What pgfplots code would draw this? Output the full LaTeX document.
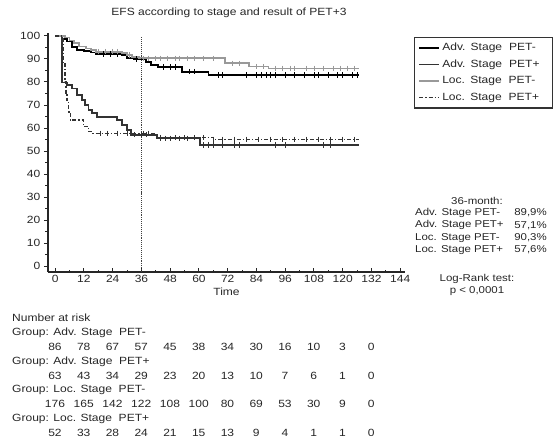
\documentclass[border=0pt]{standalone}
\usepackage{fontspec}
\setmainfont{Liberation Sans}[FakeStretch=1.15]
\usepackage{pgfplots}
\pgfplotsset{compat=1.18}
\definecolor{locneg}{gray}{0.6}
\definecolor{advpos}{gray}{0.2}
\begin{document}
\fontsize{10.5}{12}\selectfont
\begin{tikzpicture}
\useasboundingbox (0,0) rectangle (556bp,-438bp);
\begin{axis}[
  at={(48bp,-272bp)}, anchor=south west,
  scale only axis, width=357bp, height=239bp,
  xmin=-3, xmax=146, ymin=-2.6, ymax=101.3,
  axis x line*=bottom, axis y line*=left,
  axis line style={-, line width=1.7pt, black!85},
  xtick={0,12,...,144}, ytick={0,10,...,100},
  minor xtick={6,18,...,138}, minor ytick={5,15,...,95},
  tick style={black!85, line width=1pt},
  major tick length=4bp, minor tick length=2.5bp,
  xtick align=inside, ytick align=outside,
  ticklabel style={font=\fontsize{10.5}{12}\selectfont, text=black!85},
  /pgf/number format/assume math mode=true,
  xlabel={Time}, xlabel style={font=\fontsize{10.5}{12}\selectfont, yshift=2bp, text=black!85},
  clip=false,
  legend cell align=left,
  legend style={at={(rel axis cs:1.025,0.985)}, anchor=north west,
    draw=black!80, line width=1.2pt, font=\fontsize{10.5}{12}\selectfont,
    inner xsep=4bp, inner ysep=4bp, row sep=3.6bp, text=black!85,
    nodes={text width=104bp}},
  legend image code/.code={\draw[#1, sharp plot] (0bp,0bp) -- (20bp,0bp);},
]
% Adv. Stage PET-
\addplot[const plot, black, line width=1.8pt] coordinates {
(0,100) (3,98.8) (5,97.6) (7,95.2) (9,94) (12,93.5) (15,92.8) (17,92.3)
(28,91.6) (30,90.5) (33,89.9) (38,88.6) (40,87.4) (43,86.6) (53,84.5)
(64,83) (127,83)};
\addlegendentry{Adv. Stage\ \ PET-}
% Adv. Stage PET+
\addplot[const plot, advpos, line width=1.8pt] coordinates {
(0,100) (2.8,79.8) (4.9,78.7) (7,77.2) (9,74.3) (11.1,72.2) (12.5,70)
(13.9,67.8) (15.3,66.4) (17.4,64.9) (25.7,63.5) (28,61.3) (30,59.1)
(31.5,57.1) (42.4,55.5) (60.5,52.6) (127,52.6)};
\addlegendentry{Adv. Stage\ \ PET+}
% Loc. Stage PET-
\addplot[const plot, locneg, line width=1.8pt] coordinates {
(0,100) (4,99.3) (6,98) (8,96.8) (10,95.4) (13,94.6) (15,93.9) (17,93.2)
(28,92.5) (30,91.7) (32,91) (35,90.3) (71,88.1) (81,86.7) (89,85.9) (127,85.9)};
\addlegendentry{Loc. Stage\ \ PET-}
% Loc. Stage PET+
\addplot[const plot, advpos, line width=1.5pt, dash pattern=on 4bp off 2bp on 1.2bp off 2bp] coordinates {
(0,100) (3.2,88) (4,80) (4.5,75) (5,72) (5.6,67) (6.3,63.5) (11.8,60.6)
(13.9,58.4) (15.5,57.6) (42,55.8) (66,55) (127,55)};
\addlegendentry{Loc. Stage\ \ PET+}
% censor marks
\addplot[forget plot, only marks, mark=|, mark size=2.8bp, black, mark options={line width=0.9pt}] coordinates {
(20,92.3) (23,92.3) (26,92.3) (34,89.9) (45,86.6) (48,86.6) (50,86.6) (56,84.5) (58,84.5)
(68,83) (70,83) (80,83) (84,83) (86,83) (88,83) (90,83) (92,83) (96,83) (100,83)
(104,83) (108,83) (110,83) (114,83) (118,83) (120,83) (124,83) (126,83)};
\addplot[forget plot, only marks, mark=|, mark size=2.8bp, locneg, mark options={line width=0.9pt}] coordinates {
(18,93.2) (21,93.2) (24,93.2) (26,93.2) (31,91.7) (37,90.3) (39,90.3) (42,90.3) (44,90.3)
(47,90.3) (50,90.3) (52,90.3) (55,90.3) (58,90.3) (62,90.3) (66,90.3) (74,88.1) (77,88.1)
(84,86.7) (87,86.7) (92,85.9) (95,85.9) (98,85.9) (100,85.9) (105,85.9) (108,85.9)
(112,85.9) (116,85.9) (119,85.9) (122,85.9) (125,85.9)};
\addplot[forget plot, only marks, mark=|, mark size=2.8bp, advpos, mark options={line width=0.9pt}] coordinates {
(33,57.1) (36,57.1) (38,57.1) (44,55.5) (46,55.5) (48,55.5) (52,55.5) (55,55.5)
(62,52.6) (64,52.6) (66,52.6) (70,52.6) (75,52.6) (77,52.6) (92,52.6) (96,52.6)
(112,52.6) (115,52.6)};
\addplot[forget plot, only marks, mark=|, mark size=2.8bp, advpos, mark options={line width=0.9pt}] coordinates {
(19,57.6) (22,57.6) (26,57.6) (30,57.6) (37,57.6) (39,57.6) (44,55.8) (50,55.8) (54,55.8)
(58,55.8) (62,55.8) (66,55) (70,55) (75,55) (80,55) (85,55) (90,55) (95,55) (100,55)
(105,55) (110,55) (115,55) (120,55) (125,55)};
% 36-month reference line
\addplot[forget plot, black!75, line width=1.1pt, densely dotted] coordinates {(36,-2.6) (36,99.5)};
\end{axis}
\begin{scope}[x=1bp, y=-1bp, text=black!85]
\node at (229,13) {EFS according to stage and result of PET+3};
% 36-month summary
\node at (477,201) {\fontsize{10}{12}\selectfont 36-month:};
\foreach \lab/\val [count=\i from 0] in {Adv. Stage PET-/89{,}9\%, Adv. Stage PET+/57{,}1\%, Loc. Stage PET-/90{,}3\%, Loc. Stage PET+/57{,}6\%} {
  \node[anchor=west, inner sep=0pt] at (415,{213+12.3*\i}) {\fontsize{10}{12}\selectfont \lab};
  \node[anchor=east, inner sep=0pt] at (547,{213+12.3*\i}) {\fontsize{10}{12}\selectfont \val};
}
\node at (477,279) {\fontsize{10}{12}\selectfont Log-Rank test:};
\node at (477,291) {\fontsize{10}{12}\selectfont p < 0,0001};
% number at risk
\node[anchor=west, inner sep=0pt] at (12,318) {Number at risk};
\node[anchor=west, inner sep=0pt] at (12,333) {Group: Adv. Stage\ \ PET-};
\node[anchor=west, inner sep=0pt] at (12,361.5) {Group: Adv. Stage\ \ PET+};
\node[anchor=west, inner sep=0pt] at (12,390) {Group: Loc. Stage\ \ PET-};
\node[anchor=west, inner sep=0pt] at (12,418.5) {Group: Loc. Stage\ \ PET+};
\foreach \v [count=\i from 0] in {86,78,67,57,45,38,34,30,16,10,3,0}
  \node[inner sep=0pt] at ({55+28.75*\i},347) {\v};
\foreach \v [count=\i from 0] in {63,43,34,29,23,20,13,10,7,6,1,0}
  \node[inner sep=0pt] at ({55+28.75*\i},375.5) {\v};
\foreach \v [count=\i from 0] in {176,165,142,122,108,100,80,69,53,30,9,0}
  \node[inner sep=0pt] at ({55+28.75*\i},404) {\v};
\foreach \v [count=\i from 0] in {52,33,28,24,21,15,13,9,4,1,1,0}
  \node[inner sep=0pt] at ({55+28.75*\i},432.5) {\v};
\end{scope}
\end{tikzpicture}
\end{document}
